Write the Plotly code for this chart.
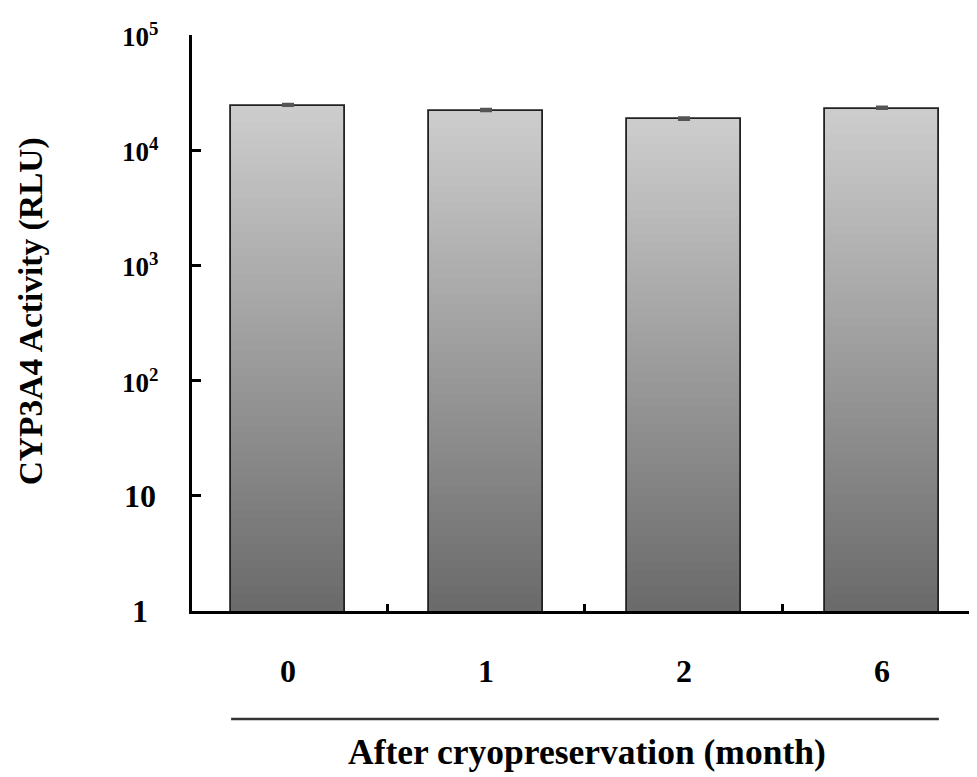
import math
import plotly.graph_objects as go

# ---- data ----
categories = ["0", "1", "2", "6"]
activity = [24400, 22000, 18500, 23000]
activity_err = [600, 700, 600, 700]
y_tick_vals = [1, 10, 100, 1000, 10000, 100000]
y_tick_text = ["1", "10", "10<sup>2</sup>", "10<sup>3</sup>", "10<sup>4</sup>", "10<sup>5</sup>"]
x_title = "After cryopreservation (month)"
y_title = "CYP3A4 Activity (RLU)"

FONT = "Liberation Serif"
BAR_W = 0.575
N = 60
TOP_G, BOT_G = 205, 106

fig = go.Figure()

# gradient fill: nested bars, lightest/tallest first
for k in range(N, 0, -1):
    frac = k / N
    t = (k - 0.5) / N  # fraction from bottom
    g = int(round(BOT_G + (TOP_G - BOT_G) * t))
    fig.add_trace(go.Bar(
        x=categories,
        y=[v ** frac for v in activity],
        width=BAR_W,
        marker=dict(color=f"rgb({g},{g},{g})", line=dict(width=0)),
        hoverinfo="skip",
        showlegend=False,
    ))

# outline + error bars
fig.add_trace(go.Bar(
    x=categories,
    y=activity,
    width=BAR_W,
    marker=dict(color="rgba(0,0,0,0)", line=dict(color="#222222", width=1.8)),
    error_y=dict(type="data", symmetric=False, array=activity_err,
                 arrayminus=[0] * len(activity), color="#555555",
                 thickness=3, width=6),
    showlegend=False,
))

annotations = []
for v, txt in zip(y_tick_vals, y_tick_text):
    size = 32 if v < 100 else 27
    annotations.append(dict(
        xref="paper", yref="y", x=0, y=math.log10(v), xshift=-52,
        text=txt, showarrow=False, xanchor="center", yanchor="middle",
        font=dict(family=FONT, size=size, color="black", weight="bold"),
    ))
annotations.append(dict(
    xref="paper", yref="paper", x=-0.204, y=0.52, text=y_title,
    textangle=-90, showarrow=False, xanchor="center", yanchor="middle",
    font=dict(family=FONT, size=33.5, color="black", weight="bold"),
))
annotations.append(dict(
    xref="paper", yref="paper", x=0.503, y=-0.245, text=x_title,
    showarrow=False, xanchor="center", yanchor="middle",
    font=dict(family=FONT, size=35.5, color="black", weight="bold"),
))

fig.update_layout(
    width=969, height=769,
    margin=dict(l=184, r=0, t=27, b=166),
    plot_bgcolor="white", paper_bgcolor="white",
    barmode="overlay",
    bargap=0,
    annotations=annotations,
    shapes=[dict(type="line", xref="x", yref="paper",
                 x0=-BAR_W / 2, x1=len(categories) - 1 + BAR_W / 2,
                 y0=-0.1875, y1=-0.1875,
                 line=dict(color="#333333", width=2.5))],
)
fig.update_xaxes(
    type="category", range=[-0.485, 3.48],
    showline=True, linecolor="black", linewidth=3,
    ticks="inside", tickson="boundaries", ticklen=7, tickwidth=3, tickcolor="black",
    showgrid=False, zeroline=False,
    tickfont=dict(family=FONT, size=32, color="black", weight="bold"),
    ticklabelstandoff=30,
)
fig.update_yaxes(
    type="log", range=[0, 5],
    showline=True, linecolor="black", linewidth=3,
    ticks="inside", ticklen=9, tickwidth=3, tickcolor="black",
    tickvals=y_tick_vals, showticklabels=False,
    showgrid=False, zeroline=False,
)

fig.write_html("out.html")
